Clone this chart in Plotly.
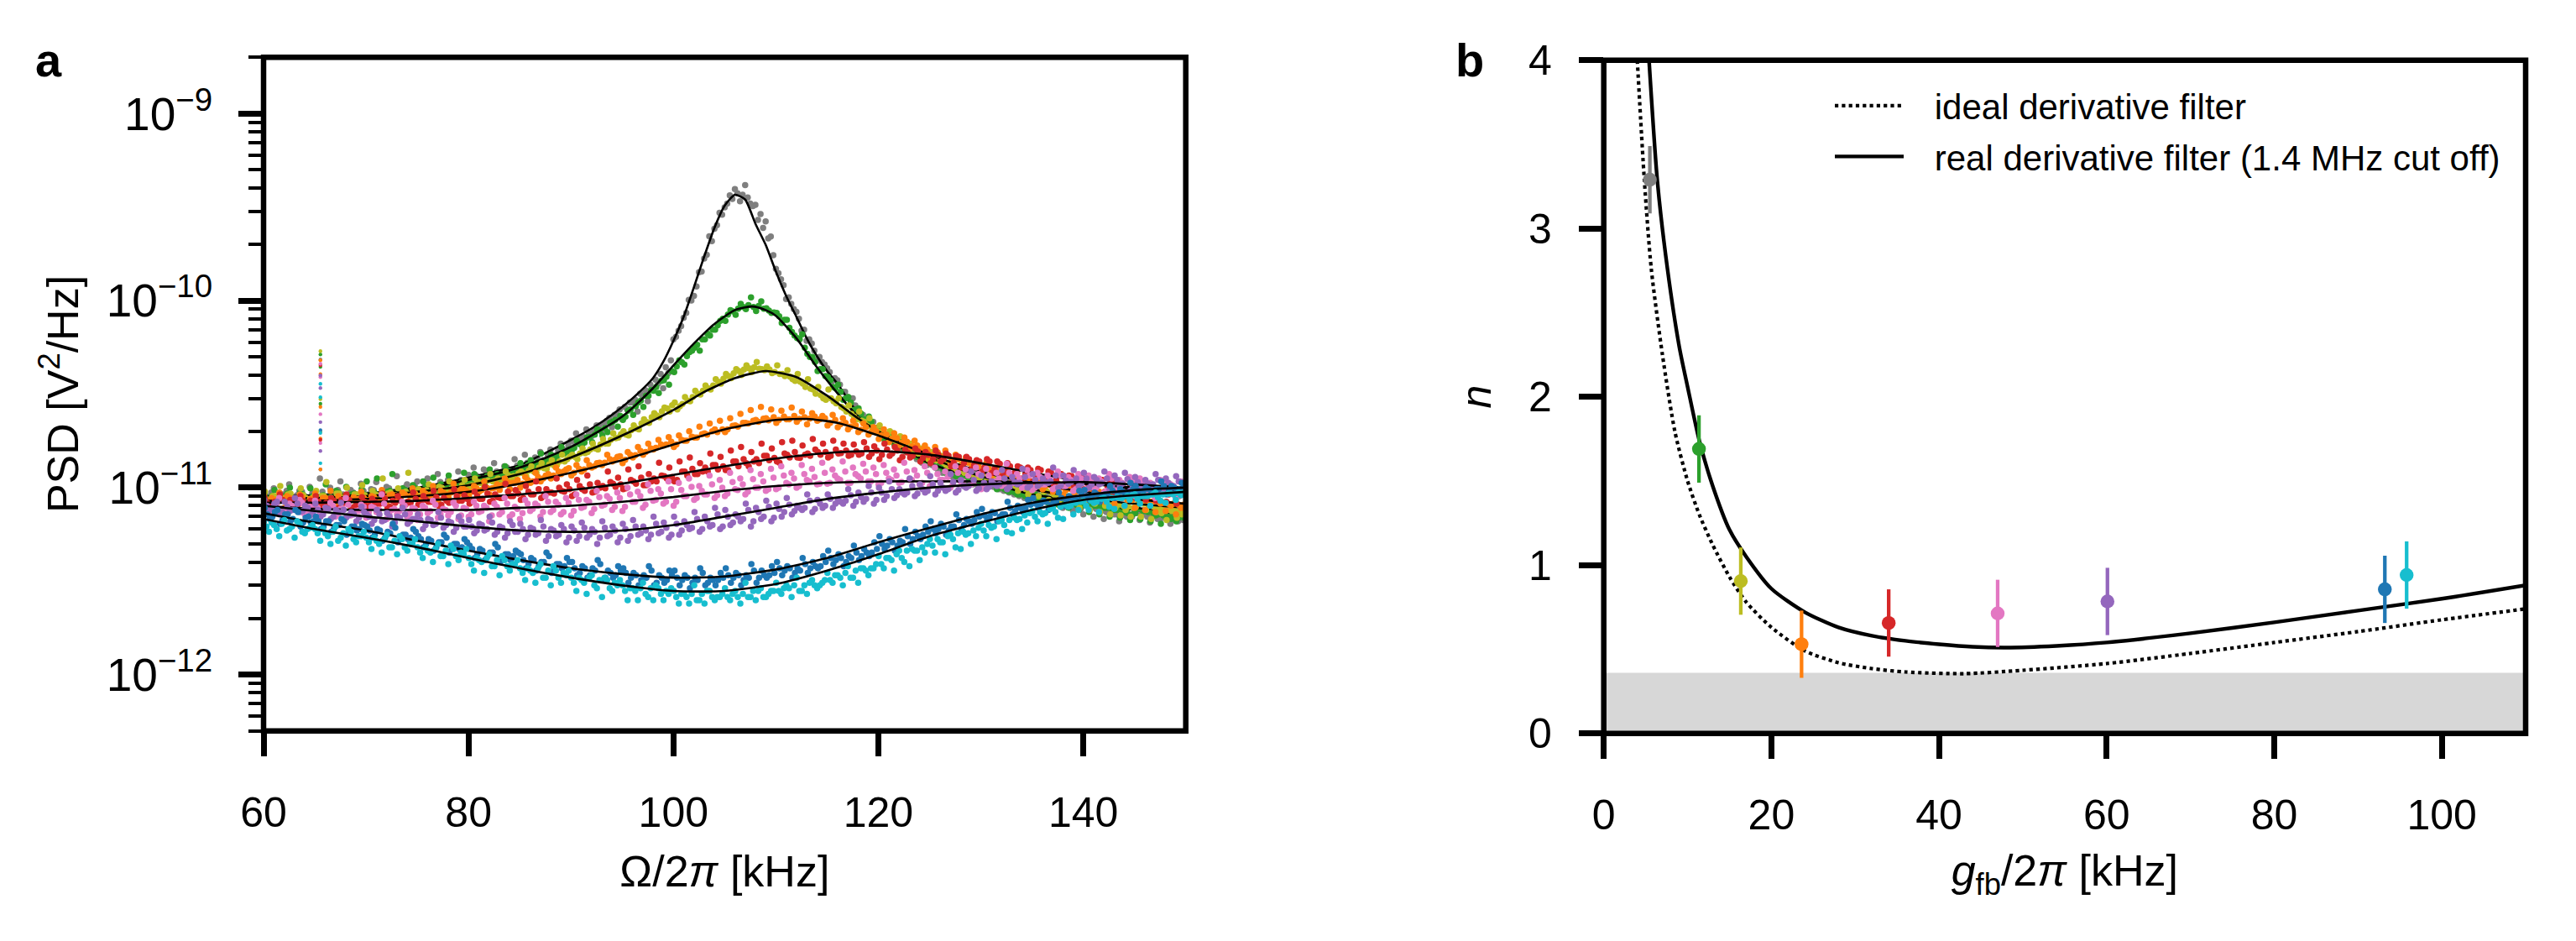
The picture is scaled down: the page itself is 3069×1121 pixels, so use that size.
import plotly.graph_objects as go

W, H = 3069, 1121
FONT = "Liberation Sans"

# ---- panel a: measured spectra, in units of 1e-13 V^2/Hz, one value per 0.5 kHz from 60 kHz
PSD_GRAY = [
96,88,99,85,92,104,87,96,90,101, 93,112,88,100,91,108,86,97,92,105,
90,98,107,89,101,94,115,92,104,96, 108,94,112,99,118,103,110,100,122,106,
117,128,110,125,115,135,120,130,118,142, 128,150,136,145,155,138,160,148,172,158,
178,195,170,205,188,215,198,228,210,245, 232,262,285,255,310,290,335,360,340,410,
620,690,810,1010,1060,1420,1680,2210,2420,2950, 3150,3650,3950,3400,4150,3300,3250,2900,2650,2200,
1480,1300,1020,960,870,690,610,590,480,470, 435,370,375,325,305,300,255,245,215,225,
210,190,185,195,170,162,168,150,158,140, 138,145,128,135,122,130,118,125,112,120,
108,115,103,110,98,107,95,102,92,98, 88,95,85,90,80,88,78,84,75,82,
72,80,70,78,68,75,72,66,77,70, 74,67,72,65,76,68,71,64,74,68, 72]
PSD_GREEN = [
92,84,97,86,90,100,83,94,88,99, 91,86,104,89,96,84,101,92,87,98,
108,90,112,88,95,118,91,99,93,103, 97,108,93,113,101,98,116,104,100,120,
107,118,112,104,125,115,110,130,122,118, 135,126,140,132,152,138,150,145,165,155,
158,178,168,185,175,205,190,198,225,212, 230,258,245,285,270,310,330,320,375,355,
415,480,455,530,560,540,620,650,700,780, 780,890,840,960,900,1040,880,990,910,860,
860,760,790,680,630,660,520,500,420,430, 390,345,355,295,305,260,265,232,240,205,
205,182,195,170,178,158,165,148,152,138, 140,128,135,120,128,115,122,112,118,106,
113,102,108,98,104,96,100,92,97,89, 94,86,90,83,88,81,86,78,84,76,
82,74,80,72,78,70,76,69,74,67, 73,68,75,66,71,64,70,68,66,72, 70]
PSD_OLIVE = [
95,84,90,102,86,93,82,99,88,85, 96,90,107,84,93,88,100,86,92,103,
88,96,91,112,93,87,99,94,120,90, 98,92,104,96,101,94,108,100,96,110,
102,112,106,100,118,109,104,122,112,108, 122,115,130,120,135,126,140,132,150,142,
150,142,162,155,172,160,182,172,195,185, 200,190,215,205,232,222,250,238,268,255,
285,272,305,290,330,315,352,335,380,360, 405,385,430,400,450,415,470,430,445,410,
450,405,425,380,405,360,380,335,345,300, 335,290,300,265,275,240,255,225,235,208,
215,192,200,178,188,168,172,158,162,148, 155,140,148,132,140,125,133,120,128,115,
122,110,116,105,110,100,106,96,102,92, 98,90,95,86,92,84,88,82,86,78,
84,76,82,74,80,72,78,71,76,70, 79,70,76,68,74,73,67,75,69,72, 74]
PSD_ORANGE = [
90,80,86,94,78,88,83,92,79,87, 93,82,88,96,80,86,91,78,84,95,
83,90,85,97,81,92,87,94,84,99, 88,96,90,102,86,94,89,105,92,98,
90,102,95,108,92,100,97,112,98,106, 100,114,106,120,108,116,112,128,118,125,
116,132,122,140,128,135,132,150,138,146, 135,155,145,165,150,172,160,180,168,186,
165,190,178,200,185,212,195,220,205,228, 198,235,215,248,222,260,230,270,235,262,
222,258,232,268,225,255,218,250,228,242, 215,245,210,235,205,228,198,220,192,210,
182,205,175,195,168,185,160,178,155,168, 145,165,140,158,135,150,130,145,126,138,
118,135,115,128,110,124,108,120,104,115, 100,112,98,108,95,105,92,102,90,100,
88,98,86,95,84,92,82,90,80,88, 78,87,76,84,74,82,75,80,72,78, 76]
PSD_RED = [
88,78,84,92,76,86,80,90,75,85, 90,78,83,88,76,86,92,77,82,89,
79,87,82,93,78,85,90,80,84,94, 81,90,84,96,80,88,83,98,85,91,
82,95,87,101,84,92,88,105,90,97, 86,102,92,108,88,98,94,112,96,104,
90,110,98,116,94,106,102,122,105,113, 98,125,108,130,103,118,112,136,115,128,
108,138,122,145,118,135,128,152,132,146, 124,158,138,165,135,155,142,172,148,162,
138,175,150,178,145,168,152,182,155,172, 145,178,152,172,148,170,150,175,146,166,
142,172,148,165,140,160,145,162,138,155, 135,158,138,152,130,148,128,146,125,140,
122,142,120,138,115,135,118,130,112,128, 108,126,110,122,105,118,104,116,102,114,
98,112,96,110,95,106,92,104,90,102, 88,100,86,98,85,96,84,94,82,92, 84]
PSD_PINK = [
84,74,80,88,71,82,76,86,72,79, 85,73,78,83,70,77,88,71,75,81,
69,79,74,92,68,76,72,84,70,78, 67,80,73,85,69,77,71,83,68,78,
70,84,74,80,66,82,72,88,70,79, 68,86,75,82,70,90,74,84,72,88,
71,92,78,86,73,96,80,90,76,94, 75,100,84,95,78,104,85,98,82,108,
80,106,90,112,86,102,92,116,88,110, 90,120,98,112,92,124,100,118,96,126,
98,130,106,120,100,132,110,126,104,136, 105,125,112,138,106,128,115,134,108,128,
104,132,112,125,106,136,110,124,104,130, 102,128,110,122,100,130,108,125,104,128,
98,126,108,120,102,134,106,118,100,124, 97,120,104,116,98,122,102,114,96,118,
96,116,100,112,94,118,98,110,92,114, 90,112,96,106,88,110,94,104,88,108, 92]
PSD_PURPLE = [
86,76,82,72,84,75,88,74,80,71, 82,70,78,68,76,83,69,74,66,79,
72,64,76,66,73,62,70,78,64,68, 72,60,68,63,74,61,66,58,70,62,
67,57,64,59,70,56,62,54,66,58, 64,53,61,56,67,52,60,55,63,51,
62,52,65,54,60,50,66,55,62,51, 64,52,67,56,62,53,70,57,65,54,
70,56,66,60,74,58,70,62,78,60, 76,63,72,66,82,62,78,68,85,66,
82,70,88,72,80,76,92,74,86,78, 92,78,86,82,98,80,94,84,102,82,
100,86,108,88,98,92,112,90,104,94, 115,92,106,96,118,94,110,100,122,96,
116,98,108,102,124,98,114,104,126,100, 118,102,112,106,128,100,116,105,124,102,
120,100,114,104,122,98,116,102,120,96, 114,98,110,102,118,94,112,100,115,96, 108]
PSD_BLUE = [
78,68,74,64,72,66,76,62,69,65, 70,60,66,58,63,68,56,62,59,64,
62,54,60,52,58,64,51,56,53,60, 55,48,53,46,51,56,45,50,47,53,
49,42,47,41,45,50,40,44,41,46, 44,37,42,36,40,45,35,39,37,42,
40,34,38,33,37,41,32,36,33,38, 37,31,35,30,34,38,30,34,31,36,
36,30,34,29,33,37,30,33,30,35, 37,31,35,30,34,39,31,36,33,38,
40,34,38,33,37,42,35,40,37,43, 46,39,44,38,43,49,41,47,43,51,
55,47,53,46,52,60,50,58,53,62, 66,57,64,56,62,72,60,68,64,74,
77,67,74,66,72,84,72,80,74,86, 88,78,85,76,84,94,80,90,84,96,
97,86,94,84,92,102,88,98,90,106, 102,90,100,92,98,108,92,102,94,106, 104]
PSD_CYAN = [
66,58,63,55,67,60,54,64,57,61, 60,52,57,50,62,54,49,58,51,55,
54,47,52,45,56,48,44,53,46,50, 48,42,46,40,50,43,39,47,41,44,
42,36,41,35,44,38,34,41,36,39, 37,32,36,31,39,33,30,36,31,34,
33,28,32,27,34,29,26,32,28,30, 30,25,29,25,31,26,25,29,25,27,
28,24,27,24,30,25,24,28,25,26, 29,25,28,24,31,26,25,29,26,28,
31,27,30,26,33,28,27,32,29,31, 35,31,34,30,38,33,31,37,34,37,
43,37,42,36,46,40,38,46,41,45, 53,45,51,44,56,48,47,56,50,55,
64,55,61,53,67,58,57,67,60,65, 75,66,72,64,78,69,68,79,72,76,
85,76,83,74,88,79,77,88,80,86, 92,82,90,80,94,85,83,93,86,91, 96]

# second sweep of each spectrum, 0.25 kHz later, same units
PSD2_GRAY = [
90,94,87,92,96,89,91,95,85,93, 88,95,90,86,97,92,89,94,91,96,
92,97,90,94,99,95,92,100,97,103, 98,104,101,96,107,102,106,104,110,108,
112,116,114,119,117,122,121,128,125,131, 130,136,134,142,140,149,147,158,160,168,
176,183,186,196,203,214,220,236,245,262, 270,285,296,318,332,355,378,405,440,480,
640,730,860,1000,1190,1430,1760,2080,2530,2880, 3300,3500,3750,3680,3560,3200,2700,2450,2150,1750,
1400,1210,1040,900,800,700,620,540,500,455, 415,385,355,325,295,275,250,232,222,208,
198,188,178,170,160,155,148,142,136,132, 132,126,120,118,114,112,110,106,104,100,
108,104,101,98,96,94,92,90,88,86, 90,88,86,84,82,82,80,79,78,77,
80,78,77,75,74,73,72,71,70,70, 73,72,70,70,68,69,67,68,66,67, 70]
PSD2_GREEN = [
87,90,85,89,93,86,88,92,84,90, 86,91,88,85,94,89,87,93,90,92,
90,94,89,92,96,93,91,97,95,99, 96,101,98,94,104,100,103,102,107,105,
109,113,111,115,113,118,117,123,121,126, 127,132,130,137,135,143,141,150,152,160,
163,171,174,186,192,202,208,222,230,242, 240,262,272,292,310,332,345,372,392,420,
445,468,505,540,580,620,665,700,738,800, 842,875,905,925,945,925,935,905,885,865,
825,790,715,650,620,560,500,470,430,395, 375,340,325,300,285,262,248,230,225,208,
198,190,182,172,165,158,152,146,142,136, 136,130,126,122,118,116,112,110,108,105,
110,106,104,100,98,95,94,92,90,88, 92,90,88,86,85,84,83,82,81,80,
84,82,80,79,78,76,76,74,73,72, 77,75,74,73,72,71,70,70,69,69, 74]
PSD2_OLIVE = [
86,90,84,88,92,85,87,91,83,89, 85,90,87,84,93,88,86,92,89,91,
88,92,87,90,94,91,89,95,93,96, 93,97,95,91,100,97,99,99,103,101,
103,107,105,109,108,112,111,116,115,119, 119,123,122,128,127,133,131,138,138,146,
146,152,153,160,162,170,172,180,184,193, 192,203,207,220,224,238,243,256,265,276,
262,280,292,305,318,330,340,352,368,382, 395,408,420,428,435,440,432,425,428,415,
405,395,392,372,368,345,338,318,312,295, 300,282,270,255,248,232,228,215,210,200,
200,190,184,175,170,162,158,152,148,142, 146,140,136,130,128,124,120,118,114,112,
118,114,111,108,106,104,102,100,98,96, 100,98,96,94,92,91,90,88,87,86,
90,88,86,85,84,82,81,80,79,78, 84,82,80,79,78,77,76,76,75,75, 79]
PSD2_ORANGE = [
85,88,83,86,90,84,85,89,82,87, 84,88,85,82,90,86,84,89,87,88,
86,89,85,88,91,89,87,92,90,93, 89,93,91,88,96,92,94,95,98,96,
95,99,97,100,99,104,103,107,106,110, 105,110,108,114,112,118,116,122,122,127,
120,126,125,132,130,136,136,142,141,147, 141,150,149,157,155,162,163,170,170,176,
170,180,178,187,185,193,192,200,198,205, 205,214,212,222,220,228,225,234,229,238,
230,240,232,242,233,238,234,240,232,235, 222,230,218,222,212,215,204,210,198,200,
190,192,182,184,174,176,166,168,160,160, 150,154,146,148,140,142,134,136,130,130,
122,126,120,120,115,116,112,112,108,108, 106,106,102,103,100,100,97,98,95,95,
95,95,92,92,90,90,88,88,86,86, 87,85,85,84,84,83,82,82,81,81, 82]
PSD2_RED = [
83,80,84,86,79,83,81,85,78,82, 84,80,82,85,78,83,86,79,81,84,
80,84,82,87,79,83,85,81,83,87, 82,86,84,89,81,85,84,90,85,87,
84,90,87,93,85,89,88,95,90,93, 88,95,92,98,90,94,93,100,95,98,
92,102,96,104,95,100,99,107,101,104, 99,110,105,113,103,108,108,116,112,114,
110,122,116,126,118,122,122,132,125,130, 124,138,130,142,130,138,135,148,140,144,
136,152,145,155,144,150,148,160,150,155, 148,160,153,158,150,156,152,162,152,158,
150,160,152,158,146,154,148,156,144,150, 142,150,142,148,136,146,135,142,132,138,
128,138,126,134,122,130,121,128,118,124, 116,124,114,120,110,118,110,115,108,113,
106,112,104,110,102,107,100,105,98,103, 96,102,94,100,92,98,92,96,90,95, 90]
PSD2_PINK = [
79,75,82,77,74,80,76,83,73,78, 78,74,76,80,72,77,81,73,75,79,
74,78,76,82,72,77,75,80,73,77, 72,78,75,81,72,76,74,80,71,77,
72,80,75,78,71,79,74,82,72,77, 73,82,77,80,74,84,76,81,74,83,
75,86,79,84,77,89,81,87,79,88, 79,92,84,90,81,96,86,93,84,98,
84,97,90,101,88,96,92,104,91,100, 93,107,97,104,95,111,100,108,98,113,
100,116,104,112,102,118,108,114,105,120, 106,116,110,122,106,118,112,122,108,118,
106,120,110,116,107,122,110,116,106,120, 105,118,110,114,104,120,108,116,106,118,
102,116,108,112,104,120,106,112,102,116, 100,114,104,110,100,116,102,110,98,112,
98,110,100,108,96,112,98,106,94,108, 94,106,96,102,92,106,94,100,90,104, 94]
PSD2_PURPLE = [
80,77,84,74,79,76,82,75,78,73, 76,72,77,70,74,76,71,72,69,74,
70,67,72,67,70,65,69,72,66,68, 67,63,67,64,69,63,65,61,66,62,
62,59,63,60,65,58,61,57,63,58, 60,56,60,57,62,55,59,56,60,54,
59,55,61,56,58,54,61,56,59,54, 60,55,62,57,59,56,64,58,61,56,
64,59,63,61,68,60,66,63,72,62, 70,65,70,68,76,66,74,70,79,69,
77,74,81,75,78,78,85,77,82,80, 87,82,84,85,91,84,89,87,94,86,
94,90,98,91,94,94,102,93,98,96, 104,96,100,98,107,97,102,102,110,99,
106,101,104,104,112,101,107,106,114,103, 110,105,107,108,116,103,109,107,112,105,
112,104,110,106,112,102,110,105,111,100, 107,102,105,104,110,98,106,102,108,100, 102]
PSD2_BLUE = [
72,70,76,67,72,68,74,65,70,66, 66,62,66,60,63,66,59,62,60,63,
59,56,59,54,57,61,53,56,54,58, 53,50,52,48,51,54,47,50,48,51,
47,44,46,43,45,48,42,44,43,45, 41,39,41,38,40,43,37,39,38,40,
37,35,37,34,36,39,33,35,34,36, 35,33,34,32,33,36,31,33,32,34,
33,32,33,31,32,35,31,32,32,33, 34,33,34,32,33,36,33,34,34,35,
37,36,37,35,36,39,37,38,38,40, 42,41,42,40,42,45,43,45,45,47,
50,49,51,49,51,55,53,55,56,58, 60,60,62,59,62,67,63,66,67,70,
71,70,73,70,72,78,75,78,78,81, 82,82,84,81,84,88,85,88,88,91,
90,90,92,89,92,96,92,95,94,98, 96,96,98,96,98,102,97,100,98,102, 100]
PSD2_CYAN = [
62,65,60,64,59,62,66,58,60,63, 57,60,55,58,52,57,60,53,55,58,
51,54,50,53,48,52,55,48,50,53, 45,48,45,47,43,46,49,43,45,47,
39,42,40,42,38,41,43,38,39,41, 35,37,35,37,33,36,38,33,35,36,
31,33,31,33,30,32,33,29,31,32, 28,29,28,29,27,29,30,27,28,29,
26,27,26,27,25,27,28,26,26,27, 26,27,26,27,26,28,28,26,27,28,
28,29,29,30,28,30,31,30,30,32, 32,34,33,35,33,36,37,36,37,39,
39,42,41,44,42,46,47,46,48,50, 49,53,51,55,53,57,58,57,59,61,
59,63,62,66,63,67,69,68,71,73, 70,74,73,77,74,79,81,80,83,84,
80,85,84,87,84,88,89,88,90,91, 87,90,90,92,89,92,93,92,94,94, 93]

# narrow line seen near 65.5 kHz, read dot by dot
SPIKE_KHZ = 65.55
SPIKE_GRAY = [484, 125]
SPIKE_GREEN = [515, 442, 281]
SPIKE_OLIVE = [537, 297, 199]
SPIKE_ORANGE = [480, 404, 270, 183, 125]
SPIKE_RED = [452, 180]
SPIKE_PINK = [460, 390, 247, 173]
SPIKE_PURPLE = [398, 341, 224, 157]
SPIKE_BLUE = [203]
SPIKE_CYAN = [359, 304, 196, 135]

# fit curves, same units
FIT_X_COMMON = [60,65,70,75,80,85,90,95,100,105,110,115,120,125,130,135,140,145,150]
FIT_GRAY_X = [60,65,70,75,80,85,88,90,92,94,96,98,99,100,101,102,103,104,105,106,107,108,109,110,111,112,113,114,115,116,118,120,125,130,135,140,145,150]
FIT_GRAY_Y = [90,91,93,100,113,132,158,180,207,245,300,385,470,610,820,1180,1720,2450,3220,3680,3470,2580,1990,1430,1060,820,630,505,420,360,250,200,135,110,92,82,76,72]
FIT_GREEN_X = [60,65,70,75,80,85,90,95,98,100,102,104,106,107.7,109,110,112,114,116,118,120,125,130,135,140,145,150]
FIT_GREEN_Y = [88,89,92,98,110,128,165,240,340,450,590,750,890,930,890,830,630,440,320,240,195,135,110,92,85,78,75]
FIT_OLIVE_X = [60,65,70,75,80,85,90,95,100,103,106,109,112,115,118,120,125,130,135,140,145,150]
FIT_OLIVE_Y = [87,88,90,95,103,118,145,190,260,325,385,420,390,310,235,200,145,115,98,88,82,78]
FIT_ORANGE_X = [60,65,70,75,80,85,90,95,100,105,110,113,116,120,125,130,135,140,145,150]
FIT_ORANGE_Y = [85,85,87,90,95,105,120,140,170,205,230,233,222,190,150,122,106,95,87,82]
FIT_RED_Y = [83,83,84,85,88,92,97,105,117,130,143,153,157,150,135,120,108,98,90]
FIT_PINK_Y = [80,77,76,76,76,78,80,84,89,96,102,106,108,108,108,107,105,100,95]
FIT_PURPLE_Y = [80,75,70,66,62,59,58,59,63,70,78,87,94,100,104,106,107,104,100]
FIT_BLUE_Y = [73,65,59,52,46,41,37,34.5,33,33.5,36.5,42,51,61,72,83,91,97,100]
FIT_CYAN_Y = [68,60,54,48,42,37,33,30,28,28,30.5,36,44,55,65,76,86,91,95]

# ---- panel b
G_FB = [5.5, 11.36, 16.35, 23.6, 34.0, 47.0, 60.1, 93.2, 95.8]
N_VAL = [3.29, 1.69, 0.905, 0.53, 0.656, 0.713, 0.784, 0.856, 0.941]
N_ERR = [0.2, 0.2, 0.2, 0.2, 0.2, 0.2, 0.2, 0.2, 0.2]
IDEAL_X = [4.0,4.85,5.67,7,8.5,10,11.4,13,15,17,20,24,28,32,36,43,50,60,70,80,90,100,110]
IDEAL_Y = [4.0,3.28,2.76,2.25,1.79,1.5,1.3,1.12,0.93,0.78,0.63,0.49,0.42,0.385,0.365,0.355,0.375,0.415,0.475,0.54,0.605,0.675,0.74]
REAL_X = [5.4,6.4,7.6,9,10,11.4,13,15,17,20,24,28,32,36,40,44,48,54,60,70,80,90,100,110]
REAL_Y = [4.0,3.28,2.76,2.3,2.06,1.74,1.47,1.21,1.05,0.86,0.72,0.63,0.58,0.55,0.53,0.515,0.51,0.52,0.54,0.595,0.66,0.73,0.80,0.88]
BAND_TOP = 0.36

COLORS = ["#7f7f7f", "#2ca02c", "#bcbd22", "#ff7f0e", "#d62728", "#e377c2", "#9467bd", "#1f77b4", "#17becf"]
X_STARTS = [60.0, 60.07, 60.13, 60.04, 60.1, 60.02, 60.06, 60.11, 60.03]
PSD = [PSD_GRAY, PSD_GREEN, PSD_OLIVE, PSD_ORANGE, PSD_RED, PSD_PINK, PSD_PURPLE, PSD_BLUE, PSD_CYAN]
PSD2 = [PSD2_GRAY, PSD2_GREEN, PSD2_OLIVE, PSD2_ORANGE, PSD2_RED, PSD2_PINK, PSD2_PURPLE, PSD2_BLUE, PSD2_CYAN]
SPIKES = [SPIKE_GRAY, SPIKE_GREEN, SPIKE_OLIVE, SPIKE_ORANGE, SPIKE_RED, SPIKE_PINK, SPIKE_PURPLE, SPIKE_BLUE, SPIKE_CYAN]
FITS = [(FIT_GRAY_X, FIT_GRAY_Y), (FIT_GREEN_X, FIT_GREEN_Y), (FIT_OLIVE_X, FIT_OLIVE_Y), (FIT_ORANGE_X, FIT_ORANGE_Y),
        (FIT_X_COMMON, FIT_RED_Y), (FIT_X_COMMON, FIT_PINK_Y), (FIT_X_COMMON, FIT_PURPLE_Y), (FIT_X_COMMON, FIT_BLUE_Y), (FIT_X_COMMON, FIT_CYAN_Y)]
UNIT = 1e-13

fig = go.Figure()
for col, start, psd, psd2, spike, (fx, fy) in zip(COLORS, X_STARTS, PSD, PSD2, SPIKES, FITS):
    for sweep, x0 in ((psd, start), (psd2, start + 0.25)):
        fig.add_trace(go.Scatter(x0=x0, dx=0.5, y=[v * UNIT for v in sweep], mode="markers",
                                 marker=dict(color=col, size=7.5, line=dict(width=0)),
                                 showlegend=False, hoverinfo="skip", xaxis="x", yaxis="y"))
    fig.add_trace(go.Scatter(x=[SPIKE_KHZ] * len(spike), y=[v * UNIT for v in spike], mode="markers",
                             marker=dict(color=col, size=4.4, line=dict(width=0)),
                             showlegend=False, hoverinfo="skip", xaxis="x", yaxis="y"))
    fig.add_trace(go.Scatter(x=fx, y=[v * UNIT for v in fy], mode="lines",
                             line=dict(color="black", width=2.6, shape="spline", smoothing=0.6),
                             showlegend=False, hoverinfo="skip", xaxis="x", yaxis="y"))

fig.add_trace(go.Scatter(x=IDEAL_X, y=IDEAL_Y, mode="lines", name="\u00a0\u00a0\u2009ideal derivative filter",
                         legendgroup="i", line=dict(color="black", width=4.2, dash="4.2px,4.1px", shape="spline", smoothing=0.7),
                         xaxis="x2", yaxis="y2"))
fig.add_trace(go.Scatter(x=REAL_X, y=REAL_Y, mode="lines", name="\u00a0\u00a0\u2009real derivative filter (1.4 MHz cut off)",
                         legendgroup="r", line=dict(color="black", width=4.4, shape="spline", smoothing=0.7),
                         xaxis="x2", yaxis="y2"))
for gx, nv, ne, col in zip(G_FB, N_VAL, N_ERR, COLORS):
    fig.add_trace(go.Scatter(x=[gx], y=[nv], mode="markers", showlegend=False,
                             marker=dict(color=col, size=16.5, line=dict(width=0)),
                             error_y=dict(type="data", array=[ne], color=col, thickness=4.3, width=0),
                             xaxis="x2", yaxis="y2"))

A = dict(l=314.0, r=1412.7, t=68.3, b=870.7)
B = dict(l=1910.7, r=3009.0, t=71.7, b=873.7)
def dom_x(p): return [p["l"] / W, p["r"] / W]
def dom_y(p): return [1 - p["b"] / H, 1 - p["t"] / H]

tick = dict(ticks="outside", ticklen=29, tickwidth=6.5, tickcolor="black", showgrid=False, showline=False,
            zeroline=False, automargin=False)
tfont = dict(family=FONT, size=50, color="black")

fig.update_layout(
    width=W, height=H, margin=dict(l=0, r=0, t=0, b=0, pad=0),
    paper_bgcolor="white", plot_bgcolor="white",
    font=dict(family=FONT, size=50, color="black"),
    xaxis=dict(domain=dom_x(A), anchor="y", range=[60, 150], dtick=20, tick0=60, ticklabelstandoff=24, tickfont=tfont,
               title=dict(text="Ω/2<i>π</i> [kHz]", standoff=24, font=dict(family=FONT, size=52)), **tick),
    yaxis=dict(domain=dom_y(A), anchor="x", type="log", range=[-12.30103, -8.69897], dtick=1,
               exponentformat="power", showexponent="all", ticklabelstandoff=22,
               tickfont=dict(family=FONT, size=44, color="black"),
               minor=dict(ticks="outside", ticklen=17, tickwidth=4.3, tickcolor="black", dtick="D1", showgrid=False),
               title=dict(text="PSD [V<sup>2</sup>/Hz]", standoff=16, font=dict(family=FONT, size=52)), **tick),
    xaxis2=dict(domain=dom_x(B), anchor="y2", range=[0, 110], dtick=20, tick0=0, ticklabelstandoff=24, tickfont=tfont,
                title=dict(text="<i>g</i><sub>fb</sub>/2<i>π</i> [kHz]", standoff=20, font=dict(family=FONT, size=52)), **tick),
    yaxis2=dict(domain=dom_y(B), anchor="x2", range=[0, 4], dtick=1, tick0=0, ticklabelstandoff=22, tickfont=tfont,
                title=dict(text="<i>n</i>", standoff=28, font=dict(family=FONT, size=50)), **tick),
    legend=dict(x=2181 / W, y=1 - 92 / H, xanchor="left", yanchor="top", bgcolor="rgba(0,0,0,0)", borderwidth=0,
                font=dict(family=FONT, size=42, color="black"), itemwidth=82, tracegroupgap=3, traceorder="grouped"),
    shapes=[
        dict(type="rect", xref="x2", yref="y2", x0=0, x1=110, y0=0, y1=BAND_TOP, fillcolor="#d7d7d7",
             line=dict(width=0), layer="below"),
        dict(type="rect", xref="paper", yref="paper", x0=A["l"] / W, x1=A["r"] / W, y0=1 - A["b"] / H, y1=1 - A["t"] / H,
             line=dict(color="black", width=6.5), layer="above"),
        dict(type="rect", xref="paper", yref="paper", x0=B["l"] / W, x1=B["r"] / W, y0=1 - B["b"] / H, y1=1 - B["t"] / H,
             line=dict(color="black", width=6.5), layer="above"),
    ],
    annotations=[
        dict(text="<b>a</b>", xref="paper", yref="paper", x=40 / W, y=1 - 92 / H, xanchor="left", yanchor="bottom", yshift=-13,
             showarrow=False, font=dict(family=FONT, size=56, color="black")),
        dict(text="<b>b</b>", xref="paper", yref="paper", x=1732 / W, y=1 - 92 / H, xanchor="left", yanchor="bottom", yshift=-13,
             showarrow=False, font=dict(family=FONT, size=56, color="black")),
    ],
)
fig.write_html("out.html", config={"displayModeBar": False},
               post_script="document.body.style.margin='0';document.body.style.overflow='hidden';")
